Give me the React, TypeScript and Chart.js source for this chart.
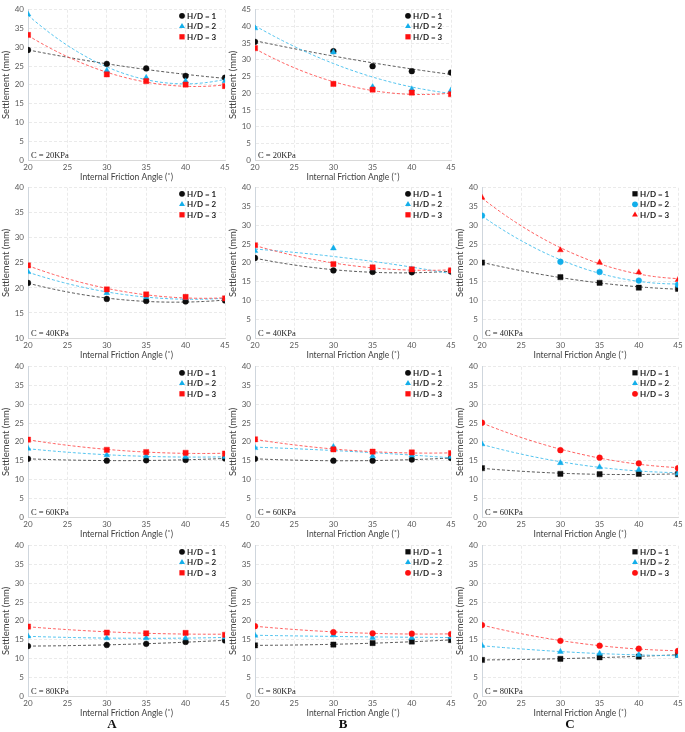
import React, { useEffect, useRef } from 'react';
import { Chart, registerables } from 'chart.js';

Chart.register(...registerables);

// ---------- data ----------
const angles = [20, 30, 35, 40, 45];
const seriesLabels = ['H/D = 1', 'H/D = 2', 'H/D = 3'];
const cohesionLabels = ['C = 20KPa', 'C = 40KPa', 'C = 60KPa', 'C = 80KPa'];
const columnLabels = ['A', 'B', 'C'];
const xTitle = 'Internal Friction Angle (˚)';
const yTitle = 'Settlement (mm)';

// Column A
const a20hd1 = [29.3, 25.6, 24.4, 22.4, 21.9];
const a20hd2 = [38.8, 23.8, 21.9, 21.0, 21.0];
const a20hd3 = [33.3, 22.8, 21.0, 20.1, 19.7];
const a40hd1 = [21.0, 17.8, 17.4, 17.3, 17.5];
const a40hd2 = [23.2, 19.0, 18.2, 18.0, 17.8];
const a40hd3 = [24.5, 19.7, 18.7, 18.2, 17.9];
const a60hd1 = [15.5, 15.0, 15.1, 15.2, 15.6];
const a60hd2 = [18.2, 16.5, 16.2, 16.0, 16.0];
const a60hd3 = [20.6, 17.9, 17.3, 17.1, 16.9];
const a80hd1 = [13.3, 13.6, 13.9, 14.4, 14.8];
const a80hd2 = [15.9, 15.4, 15.4, 15.4, 15.6];
const a80hd3 = [18.5, 16.9, 16.7, 16.8, 16.3];

// Column B
const b20hd1 = [35.4, 32.6, 28.1, 26.6, 26.2];
const b20hd2 = [39.5, 32.3, 21.9, 21.2, 20.9];
const b20hd3 = [33.5, 22.8, 21.1, 20.2, 19.7];
const b40hd1 = [21.3, 18.0, 17.6, 17.5, 17.7];
const b40hd2 = [23.2, 23.9, 18.6, 18.3, 17.8];
const b40hd3 = [24.7, 19.7, 18.8, 18.3, 18.0];
const b60hd1 = [15.5, 15.0, 15.0, 15.3, 15.7];
const b60hd2 = [18.4, 18.7, 16.2, 16.4, 16.0];
const b60hd3 = [20.7, 18.0, 17.4, 17.2, 17.0];
const b80hd1 = [13.5, 13.7, 14.1, 14.5, 14.9];
const b80hd2 = [16.1, 16.2, 15.5, 15.5, 15.7];
const b80hd3 = [18.6, 17.0, 16.7, 16.6, 16.5];

// Column C
const c40hd1 = [20.1, 16.2, 14.7, 13.4, 13.1];
const c40hd2 = [32.6, 20.3, 17.6, 15.3, 14.2];
const c40hd3 = [37.4, 23.4, 20.1, 17.5, 15.5];
const c60hd1 = [13.0, 11.5, 11.4, 11.5, 11.4];
const c60hd2 = [19.4, 14.4, 13.3, 12.6, 11.6];
const c60hd3 = [25.1, 17.8, 15.8, 14.3, 13.0];
const c80hd1 = [9.6, 9.9, 10.3, 10.5, 11.0];
const c80hd2 = [13.4, 11.8, 11.3, 11.0, 10.7];
const c80hd3 = [18.9, 14.7, 13.4, 12.6, 12.0];

// ---------- layout / style ----------
const colLeft = [28, 255, 482];
const colRight = [225, 451, 678];
const rowTop = [7, 185, 364, 543];
const rowBottom = [160, 338, 517, 696];

const markerColors = ['#0d0d0d', '#12aeea', '#ff1010'];
const trendColors = ['#555555', '#4fc2ee', '#ff5c5c'];

type Spec = {
  col: number;
  row: number;
  series: number[][];
  styles: string[];
  yMin: number;
  yMax: number;
};

const CTR = ['circle', 'triangle', 'rect'];

const panels: Spec[] = [
  { col: 0, row: 0, series: [a20hd1, a20hd2, a20hd3], styles: CTR, yMin: 0, yMax: 40 },
  { col: 1, row: 0, series: [b20hd1, b20hd2, b20hd3], styles: CTR, yMin: 0, yMax: 45 },
  { col: 0, row: 1, series: [a40hd1, a40hd2, a40hd3], styles: CTR, yMin: 10, yMax: 40 },
  { col: 1, row: 1, series: [b40hd1, b40hd2, b40hd3], styles: CTR, yMin: 0, yMax: 40 },
  { col: 2, row: 1, series: [c40hd1, c40hd2, c40hd3], styles: ['rect', 'circle', 'triangle'], yMin: 0, yMax: 40 },
  { col: 0, row: 2, series: [a60hd1, a60hd2, a60hd3], styles: CTR, yMin: 0, yMax: 40 },
  { col: 1, row: 2, series: [b60hd1, b60hd2, b60hd3], styles: CTR, yMin: 0, yMax: 40 },
  { col: 2, row: 2, series: [c60hd1, c60hd2, c60hd3], styles: ['rect', 'triangle', 'circle'], yMin: 0, yMax: 40 },
  { col: 0, row: 3, series: [a80hd1, a80hd2, a80hd3], styles: CTR, yMin: 0, yMax: 40 },
  { col: 1, row: 3, series: [b80hd1, b80hd2, b80hd3], styles: ['rect', 'triangle', 'circle'], yMin: 0, yMax: 40 },
  { col: 2, row: 3, series: [c80hd1, c80hd2, c80hd3], styles: ['rect', 'triangle', 'circle'], yMin: 0, yMax: 40 },
];

function radiusFor(style: string) {
  if (style === 'rect') return 3.7;
  if (style === 'triangle') return 3.4;
  return 2.9;
}

function drawMarker(ctx: CanvasRenderingContext2D, style: string, x: number, y: number, color: string) {
  ctx.save();
  ctx.fillStyle = color;
  ctx.beginPath();
  const r = radiusFor(style);
  if (style === 'circle') {
    ctx.arc(x, y, r, 0, Math.PI * 2);
  } else if (style === 'rect') {
    const s = Math.SQRT1_2 * r;
    ctx.rect(x - s, y - s, 2 * s, 2 * s);
  } else {
    ctx.moveTo(x, y - r);
    ctx.lineTo(x + Math.sin((2 * Math.PI) / 3) * r, y + r / 2);
    ctx.lineTo(x - Math.sin((2 * Math.PI) / 3) * r, y + r / 2);
    ctx.closePath();
  }
  ctx.fill();
  ctx.restore();
}

// least-squares quadratic (Excel-style order-2 polynomial trendline) from the data
function quadFit(xs: number[], ys: number[]) {
  let s0 = 0, s1 = 0, s2 = 0, s3 = 0, s4 = 0, t0 = 0, t1 = 0, t2 = 0;
  for (let i = 0; i < xs.length; i++) {
    const x = xs[i], y = ys[i];
    s0 += 1; s1 += x; s2 += x * x; s3 += x * x * x; s4 += x * x * x * x;
    t0 += y; t1 += x * y; t2 += x * x * y;
  }
  const M = [
    [s0, s1, s2, t0],
    [s1, s2, s3, t1],
    [s2, s3, s4, t2],
  ];
  for (let c = 0; c < 3; c++) {
    let p = c;
    for (let r = c + 1; r < 3; r++) if (Math.abs(M[r][c]) > Math.abs(M[p][c])) p = r;
    [M[c], M[p]] = [M[p], M[c]];
    for (let r = 0; r < 3; r++) {
      if (r === c) continue;
      const f = M[r][c] / M[c][c];
      for (let k = c; k < 4; k++) M[r][k] -= f * M[c][k];
    }
  }
  const a = M[0][3] / M[0][0], b = M[1][3] / M[1][1], cc = M[2][3] / M[2][2];
  return (x: number) => a + b * x + cc * x * x;
}

const PAD_TOP = 6;
const Y_W = 30;
const X_H = 22;
const PAD_RIGHT = 8;

function Panel({ spec }: { spec: Spec }) {
  const ref = useRef<HTMLCanvasElement>(null);
  const L = colLeft[spec.col], R = colRight[spec.col];
  const T = rowTop[spec.row], B = rowBottom[spec.row];
  const left = L - Y_W;
  const top = T - PAD_TOP;
  const width = R - L + Y_W + PAD_RIGHT;
  const height = B - T + PAD_TOP + X_H;

  useEffect(() => {
    if (!ref.current) return;
    const datasets = spec.series.map((vals, i) => ({
      label: seriesLabels[i],
      data: angles.map((a, j) => ({ x: a, y: vals[j] })),
      pointStyle: spec.styles[i],
      pointRadius: radiusFor(spec.styles[i]),
      pointBackgroundColor: markerColors[i],
      pointBorderColor: markerColors[i],
      pointBorderWidth: 0.4,
      showLine: false,
      order: 3 - i,
    }));

    const note = cohesionLabels[spec.row];

    const deco = {
      id: 'deco',
      beforeDatasetsDraw(chart: any) {
        const { ctx, chartArea } = chart;
        const xs = chart.scales.x, ys = chart.scales.y;
        ctx.save();
        ctx.beginPath();
        ctx.rect(chartArea.left, chartArea.top, chartArea.right - chartArea.left, chartArea.bottom - chartArea.top);
        ctx.clip();
        spec.series.forEach((vals, i) => {
          const f = quadFit(angles, vals);
          ctx.beginPath();
          ctx.setLineDash([3, 2]);
          ctx.lineWidth = 1;
          ctx.strokeStyle = trendColors[i];
          for (let x = angles[0], k = 0; x <= angles[angles.length - 1] + 1e-9; x += 0.25, k++) {
            const px = xs.getPixelForValue(x), py = ys.getPixelForValue(f(x));
            if (k === 0) ctx.moveTo(px, py); else ctx.lineTo(px, py);
          }
          ctx.stroke();
        });
        ctx.restore();
      },
      afterDatasetsDraw(chart: any) {
        const { ctx, chartArea } = chart;
        ctx.save();
        // legend
        ctx.font = 'bold 8px Lato';
        ctx.textBaseline = 'middle';
        ctx.textAlign = 'left';
        for (let i = 0; i < 3; i++) {
          const y = chartArea.top + 6 + i * 10.5;
          drawMarker(ctx, spec.styles[i], chartArea.right - 43, y, markerColors[i]);
          ctx.fillStyle = '#1a1a1a';
          ctx.fillText(seriesLabels[i], chartArea.right - 38, y + 0.5);
        }
        // cohesion note
        ctx.font = '8.5px "Liberation Serif"';
        ctx.fillStyle = '#262626';
        ctx.textBaseline = 'alphabetic';
        ctx.fillText(note, chartArea.left + 3, chartArea.bottom - 2.5);
        ctx.restore();
      },
    };

    const chart = new Chart(ref.current, {
      type: 'scatter',
      data: { datasets },
      options: {
        animation: false,
        responsive: false,
        maintainAspectRatio: false,
        devicePixelRatio: 1,
        layout: { padding: { top: PAD_TOP, right: PAD_RIGHT, left: 0, bottom: 0 } },
        plugins: { legend: { display: false }, tooltip: { enabled: false } },
        scales: {
          x: {
            type: 'linear',
            min: 20,
            max: 45,
            ticks: { stepSize: 5, font: { family: 'Lato', size: 8 }, color: '#595959', padding: 3, maxRotation: 0 },
            grid: { color: '#e4e4e4', drawTicks: false, lineWidth: 0.8 },
            border: { dash: [3, 2], color: '#d9d9d9' },
            title: { display: true, text: xTitle, font: { family: 'Lato', size: 8.5 }, color: '#404040', padding: 0 },
            afterFit: (s: any) => { s.height = X_H; },
          },
          y: {
            type: 'linear',
            min: spec.yMin,
            max: spec.yMax,
            ticks: { stepSize: 5, font: { family: 'Lato', size: 8 }, color: '#595959', padding: 4 },
            grid: { color: '#e4e4e4', drawTicks: false, lineWidth: 0.8 },
            border: { dash: [3, 2], color: '#cfd6dd' },
            title: { display: true, text: yTitle, font: { family: 'Lato', size: 9.5 }, color: '#404040', padding: { top: 2, bottom: 0 } },
            afterFit: (s: any) => { s.width = Y_W; },
          },
        },
      },
      plugins: [deco],
    } as any);
    return () => chart.destroy();
  }, []);

  return (
    <canvas
      ref={ref}
      width={width}
      height={height}
      style={{ position: 'absolute', left, top, width, height }}
    />
  );
}

const labelX = [112, 343, 570];

export default function App() {
  return (
    <div style={{ position: 'absolute', left: 0, top: 0, width: 685, height: 732, background: '#fff', overflow: 'hidden' }}>
      {panels.map((p, i) => (
        <Panel key={i} spec={p} />
      ))}
      {columnLabels.map((t, i) => (
        <div
          key={t}
          style={{
            position: 'absolute',
            left: labelX[i] - 10,
            width: 20,
            top: 716,
            textAlign: 'center',
            fontFamily: '"Liberation Serif", serif',
            fontWeight: 'bold',
            fontSize: 13,
            lineHeight: '16px',
            color: '#111',
          }}
        >
          {t}
        </div>
      ))}
    </div>
  );
}
